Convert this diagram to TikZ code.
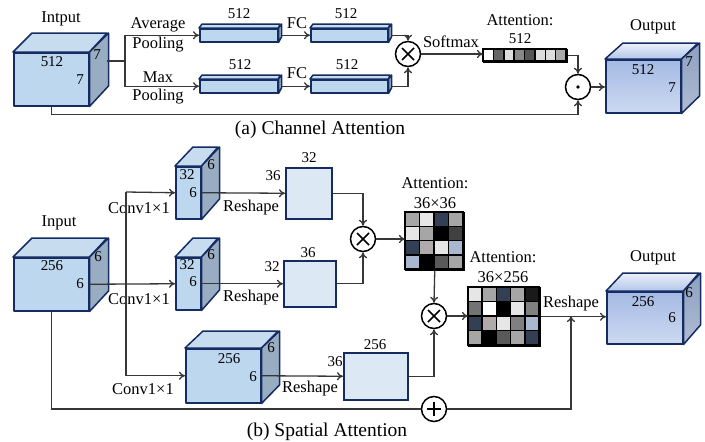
\documentclass[tikz,border=0pt]{standalone}
\usepackage{fontspec}
\setmainfont{Liberation Serif}
\usetikzlibrary{arrows.meta,backgrounds}
\definecolor{navy}{RGB}{20,44,98}
\definecolor{cubefr}{RGB}{189,215,238}
\definecolor{cubetp}{RGB}{200,220,240}
\definecolor{cubesd}{RGB}{152,172,194}
\definecolor{boxfill}{RGB}{221,232,245}
\definecolor{wire}{RGB}{55,55,55}
\definecolor{cA}{HTML}{A6A6A6}
\definecolor{cB}{HTML}{E6E6E6}
\definecolor{cC}{HTML}{333F55}
\definecolor{cD}{HTML}{000000}
\definecolor{cE}{HTML}{404040}
\definecolor{cF}{HTML}{B0AAAA}
\definecolor{cG}{HTML}{AAB8CF}
\definecolor{cH}{HTML}{595959}
\definecolor{cI}{HTML}{1A1A1A}
\definecolor{cJ}{HTML}{737373}
\definecolor{cK}{HTML}{FFFFFF}
\definecolor{cL}{HTML}{808080}
\definecolor{b1}{HTML}{FFFFFF}
\definecolor{b2}{HTML}{666666}
\definecolor{b3}{HTML}{DDDDDD}
\definecolor{b4}{HTML}{888888}
\definecolor{b5}{HTML}{555555}
\definecolor{b6}{HTML}{AAAAAA}
\tikzset{
  cubeline/.style={draw=navy,line width=1.5pt,line join=round},
  cubefront/.style={cubeline,fill=cubefr,inner sep=0,rectangle},
  outfront/.style={cubeline,inner sep=0,rectangle,top color={rgb,255:red,164;green,186;blue,228},bottom color={rgb,255:red,205;green,217;blue,240}},
  flatbox/.style={draw=navy,line width=1.5pt,fill=boxfill,inner sep=0,rectangle,anchor=north west},
  wireline/.style={draw=wire,line width=1.3pt,>={To[length=6pt,width=8pt]}},
  opnode/.style={circle,draw=black,line width=1.5pt,minimum size=25pt,inner sep=0,fill=white},
  timesop/.style={opnode,path picture={\draw[line width=1.5pt]
     ([shift={(-6pt,-6pt)}]path picture bounding box.center) -- ([shift={(6pt,6pt)}]path picture bounding box.center)
     ([shift={(-6pt,6pt)}]path picture bounding box.center) -- ([shift={(6pt,-6pt)}]path picture bounding box.center);}},
  plusop/.style={opnode,path picture={\draw[line width=2pt]
     ([shift={(-7pt,0pt)}]path picture bounding box.center) -- ([shift={(7pt,0pt)}]path picture bounding box.center)
     ([shift={(0pt,-7pt)}]path picture bounding box.center) -- ([shift={(0pt,7pt)}]path picture bounding box.center);}},
  dotop/.style={opnode,path picture={\fill[black] (path picture bounding box.center) circle (1.8pt);}},
  lbl/.style={inner sep=0,font=\fontsize{16.5}{18}\selectfont},
  num/.style={inner sep=0,font=\fontsize{15}{16}\selectfont},
  captxt/.style={inner sep=0,font=\fontsize{19.5}{22}\selectfont},
  cell/.style={draw=black,line width=1.5pt},
}
% name, x, y, w, h, dx, dy
\newcommand{\mycube}[7]{%
  \node[cubefront,minimum width=#4pt,minimum height=#5pt,anchor=north west] (#1) at (#2,#3) {};
  \draw[cubeline,fill=cubetp] (#1.north west) -- ++(#6,-#7) -- ++(#4,0) -- (#1.north east) -- cycle;
  \draw[cubeline,fill=cubesd] (#1.north east) -- ++(#6,-#7) -- ++(0,#5) -- (#1.south east) -- cycle;
}
\newcommand{\myoutcube}[7]{%
  \node[outfront,minimum width=#4pt,minimum height=#5pt,anchor=north west] (#1) at (#2,#3) {};
  \draw[cubeline,top color={rgb,255:red,236;green,241;blue,250},bottom color={rgb,255:red,178;green,197;blue,233}] (#1.north west) -- ++(#6,-#7) -- ++(#4,0) -- (#1.north east) -- cycle;
  \draw[cubeline,top color={rgb,255:red,140;green,160;blue,192},bottom color={rgb,255:red,176;green,188;blue,210}] (#1.north east) -- ++(#6,-#7) -- ++(0,#5) -- (#1.south east) -- cycle;
}
\begin{document}
\begin{tikzpicture}[x=1pt,y=-1pt]
\useasboundingbox (0,0) rectangle (705,442);

% ================= (a) Channel attention =================
\mycube{inA}{13}{52}{75}{53}{19}{19}
\node[lbl] at (61,19) {Intput};
\node[num] at (52,62) {512};
\node[num] at (80,80) {7};
\node[num] at (97,55) {7};

\mycube{barA1}{199}{28}{78}{13}{3}{4}
\mycube{barA2}{310}{28}{77}{13}{3}{4}
\mycube{barA3}{199}{79}{78}{13}{3}{4}
\mycube{barA4}{310}{79}{77}{13}{3}{4}
\node[num] at (239,14) {512};
\node[num] at (346,14) {512};
\node[num] at (240,65) {512};
\node[num] at (347,65) {512};
\node[lbl] at (297,23) {FC};
\node[lbl] at (297,73) {FC};
\node[lbl] at (158,25) {Average};
\node[lbl] at (158,45) {Pooling};
\node[lbl] at (158,77) {Max};
\node[lbl] at (158,97) {Pooling};

\node[timesop] (mulA) at (408,54) {};
\node[lbl] at (451,42) {Softmax};

\node[draw=black,line width=1.5pt,minimum width=83pt,minimum height=12pt,inner sep=0,anchor=north west] (attbar) at (483,49) {};
\foreach \cl [count=\c from 0] in {b1,b2,b3,b4,b5,b3,b3,b6}
  \draw[cell,fill=\cl] ([shift={(\c*10.375,0)}]attbar.north west) rectangle ++(10.375,12);
\node[lbl] at (520,20) {Attention:};
\node[num] at (520,39) {512};

\node[dotop] (dotA) at (578,87) {};

\myoutcube{outA}{605}{59}{75}{53}{18}{16}
\node[lbl] at (653,27) {Output};
\node[num] at (643,70) {512};
\node[num] at (672,88) {7};
\node[num] at (689,62) {7};

\coordinate (inAside) at (107,61);
\coordinate (splitA) at (125,61);
\draw[wireline,->] (inAside) -- (splitA) |- (barA1.west);
\draw[wireline,->] (splitA) |- (barA3.west);
\draw[wireline,->] ([xshift=3pt]barA1.east) -- (barA2.west);
\draw[wireline,->] ([xshift=3pt]barA3.east) -- (barA4.west);
\draw[wireline,->] ([xshift=3pt]barA2.east) -| (mulA.north);
\draw[wireline,->] ([xshift=3pt]barA4.east) -| (mulA.south);
\draw[wireline,->] (mulA.east) -- (mulA.east -| attbar.west);
\draw[wireline,->] (attbar.east) -| (dotA.north);
\draw[wireline,->] (dotA.east) -- (dotA.east -| outA.west);
\draw[wireline,->] (inA.south) -- ++(0,8) -| (dotA.south);

\node[captxt] at (320,130) {(a) Channel Attention};

% ================= (b) Spatial attention =================
\mycube{inB}{13}{257}{75}{53}{19}{19}
\node[lbl] at (59,223) {Input};
\node[num] at (52,266) {256};
\node[num] at (80,284) {6};
\node[num] at (98,257) {6};

\mycube{cB1}{175}{166}{25}{52}{18}{19}
\node[num] at (187,175) {32};
\node[num] at (193,193) {6};
\node[num] at (211,165) {6};

\mycube{cB2}{175}{257}{25}{52}{18}{19}
\node[num] at (187,265) {32};
\node[num] at (193,282) {6};
\node[num] at (211,255) {6};

\mycube{cB3}{185}{348}{75}{54}{18}{17}
\node[num] at (229,359) {256};
\node[num] at (253,377) {6};
\node[num] at (271,348) {6};

\node[lbl] at (139,208) {Conv1×1};
\node[lbl] at (139,299) {Conv1×1};
\node[lbl] at (143,389) {Conv1×1};

\node[flatbox,minimum width=46pt,minimum height=51pt] (boxB1) at (285,167) {};
\node[flatbox,minimum width=52pt,minimum height=46pt] (boxB2) at (283,260) {};
\node[flatbox,minimum width=64pt,minimum height=47pt] (boxB3) at (343,352) {};
\node[num] at (309,158) {32};
\node[num] at (273,176) {36};
\node[num] at (308,253) {36};
\node[num] at (272,267) {32};
\node[num] at (375,345) {256};
\node[num] at (335,362) {36};
\node[lbl] at (251,208) {Reshape};
\node[lbl] at (251,298) {Reshape};
\node[lbl] at (310,389) {Reshape};

\node[timesop] (mulB1) at (363,239) {};
\node[timesop] (mulB2) at (434,316) {};
\node[plusop] (addB) at (434,409) {};

\node[draw=black,line width=1.5pt,minimum width=58pt,minimum height=57pt,inner sep=0,anchor=north west] (mat1) at (405,212) {};
\foreach \r/\row in {0/{cA,cB,cC,cA},1/{cB,cA,cD,cE},2/{cC,cF,cB,cG},3/{cG,cD,cH,cA}}
  \foreach \cl [count=\c from 0] in \row
    \draw[cell,fill=\cl] ([shift={(\c*14.5,\r*14.25)}]mat1.north west) rectangle ++(14.5,14.25);
\node[lbl] at (435,183) {Attention:};
\node[lbl] at (435,203) {36×36};

\node[draw=black,line width=1.5pt,minimum width=71pt,minimum height=58pt,inner sep=0,anchor=north west] (mat2) at (468,287) {};
\foreach \r/\row in {0/{cB,cA,cC,cA,cI},1/{cJ,cK,cD,cB,cL},2/{cC,cF,cB,cL,cG},3/{cA,cD,cH,cA,cC}}
  \foreach \cl [count=\c from 0] in \row
    \draw[cell,fill=\cl] ([shift={(\c*14.2,\r*14.5)}]mat2.north west) rectangle ++(14.2,14.5);
\node[lbl] at (503,257) {Attention:};
\node[lbl] at (503,277) {36×256};

\myoutcube{outB}{606}{291}{76}{52}{17}{18}
\node[lbl] at (653,258) {Output};
\node[num] at (643,302) {256};
\node[num] at (672,318) {6};
\node[num] at (689,293) {6};
\node[lbl] at (571,304) {Reshape};

\coordinate (vtop) at (126,192);
\coordinate (rj) at (571,316);
\draw[wireline,->] (inB.east) -- (cB2.west);
\draw[wireline,->] (vtop) -- (cB1.west);
\draw[wireline,->] (vtop) |- (cB3.west);
\draw[wireline,->] (cB1.east) -- (boxB1.west);
\draw[wireline,->] (cB2.east) -- (boxB2.west);
\draw[wireline,->] (cB3.east) -- (boxB3.west);
\draw[wireline,->] (boxB1.east) -| (mulB1.north);
\draw[wireline,->] (boxB2.east) -| (mulB1.south);
\draw[wireline,->] (mulB1.east) -- (mulB1.east -| mat1.west);
\draw[wireline,->] (mat1.south) -- (mulB2.north);
\draw[wireline,->] (mulB2.east) -- (mulB2.east -| mat2.west);
\draw[wireline,->] (boxB3.east) -| (mulB2.south);
\draw[wireline,->] (mat2.east) -- (mat2.east -| outB.west);
\draw[wireline] (inB.south) |- (addB.west);
\draw[wireline,->] (addB.east) -| (rj);

\node[captxt] at (327,432) {(b) Spatial Attention};
\end{tikzpicture}
\end{document}
